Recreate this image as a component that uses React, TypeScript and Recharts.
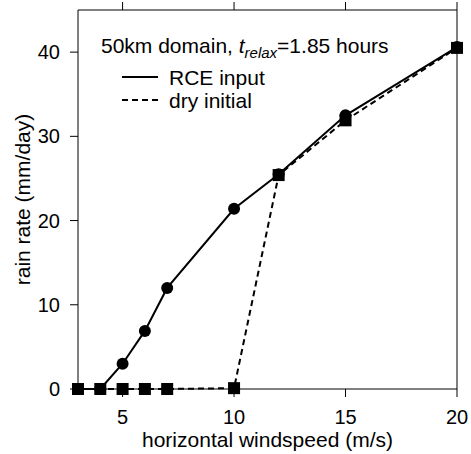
import { ComposedChart, Line, XAxis, YAxis, Label, Customized } from 'recharts';

const windspeed = [3, 4, 5, 6, 7, 10, 12, 15, 20];
const rceInput = [0, 0, 3, 6.9, 12, 21.4, 25.5, 32.5, 40.6];
const dryInitial = [0, 0, 0, 0, 0, 0.1, 25.4, 31.9, 40.5];
const xTicks = [5, 10, 15, 20];
const yTicks = [0, 10, 20, 30, 40];

const data = windspeed.map((x, i) => ({ x, rce: rceInput[i], dry: dryInitial[i] }));

const FONT = '"Liberation Sans", Arial, sans-serif';

const SquareDot = (props: any) => {
  const { cx, cy } = props;
  if (cx == null || cy == null) return <g />;
  return <rect x={cx - 6} y={cy - 6} width={12} height={12} fill="#000" />;
};

const NoTick = () => <g />;

function Annotations() {
  return (
    <g fontFamily={FONT} fill="#000">
      <text x={101} y={53} fontSize={21}>
        50km domain,{' '}
        <tspan fontStyle="italic">t</tspan>
        <tspan fontStyle="italic" fontSize={15} dy={5}>
          relax
        </tspan>
        <tspan dy={-5}>=1.85 hours</tspan>
      </text>
      <line x1={122} x2={158} y1={77} y2={77} stroke="#000" strokeWidth={2} />
      <text x={169} y={85} fontSize={21}>
        RCE input
      </text>
      <line x1={122} x2={158} y1={100} y2={100} stroke="#000" strokeWidth={2} strokeDasharray="6 4" />
      <text x={169} y={108} fontSize={21}>
        dry initial
      </text>
    </g>
  );
}

const axisLine = { stroke: '#000', strokeWidth: 1 };
const tickLine = { stroke: '#000', strokeWidth: 1 };
const tickStyle = { fill: '#000', fontSize: 20, fontFamily: FONT };

export default function App() {
  return (
    <div style={{ position: 'absolute', left: 0, top: 0, background: '#fff' }}>
      <ComposedChart
        width={471}
        height={454}
        data={data}
        margin={{ top: 0, right: 0, bottom: 0, left: 18 }}
        style={{ fontFamily: FONT }}
      >
        <XAxis
          dataKey="x"
          type="number"
          domain={[3, 20]}
          ticks={xTicks}
          height={65}
          axisLine={axisLine}
          tickLine={tickLine}
          tickSize={8}
          tickMargin={13}
          tick={tickStyle}
        >
          <Label
            value="horizontal windspeed (m/s)"
            position="insideBottom"
            offset={7}
            style={{ fill: '#000', fontSize: 21, fontFamily: FONT }}
          />
        </XAxis>
        <XAxis
          xAxisId="top"
          dataKey="x"
          type="number"
          orientation="top"
          domain={[3, 20]}
          ticks={xTicks}
          height={10}
          axisLine={axisLine}
          tickLine={tickLine}
          tickSize={8}
          tick={NoTick}
        />
        <YAxis
          type="number"
          domain={[0, 45]}
          ticks={yTicks}
          width={60}
          axisLine={axisLine}
          tickLine={tickLine}
          tickSize={8}
          tickMargin={10}
          tick={tickStyle}
        >
          <Label
            content={(props: any) => {
              const vb = props.viewBox || { x: 18, y: 10, width: 60, height: 379 };
              const cx = 22;
              const cy = vb.y + vb.height / 2;
              return (
                <text
                  x={cx}
                  y={cy}
                  transform={`rotate(-90 ${cx} ${cy})`}
                  textAnchor="middle"
                  dominantBaseline="central"
                  fontSize={21}
                  fontFamily={FONT}
                  fill="#000"
                >
                  rain rate (mm/day)
                </text>
              );
            }}
          />
        </YAxis>
        <YAxis
          yAxisId="right"
          orientation="right"
          type="number"
          domain={[0, 45]}
          ticks={yTicks}
          width={14}
          axisLine={axisLine}
          tickLine={tickLine}
          tickSize={8}
          tick={NoTick}
        />
        <Line
          dataKey="rce"
          stroke="#000"
          strokeWidth={2}
          dot={{ r: 6, fill: '#000', stroke: 'none' }}
          activeDot={false}
          isAnimationActive={false}
        />
        <Line
          dataKey="dry"
          stroke="#000"
          strokeWidth={2}
          strokeDasharray="6 4"
          dot={SquareDot}
          activeDot={false}
          isAnimationActive={false}
        />
        <Customized component={Annotations} />
      </ComposedChart>
    </div>
  );
}
